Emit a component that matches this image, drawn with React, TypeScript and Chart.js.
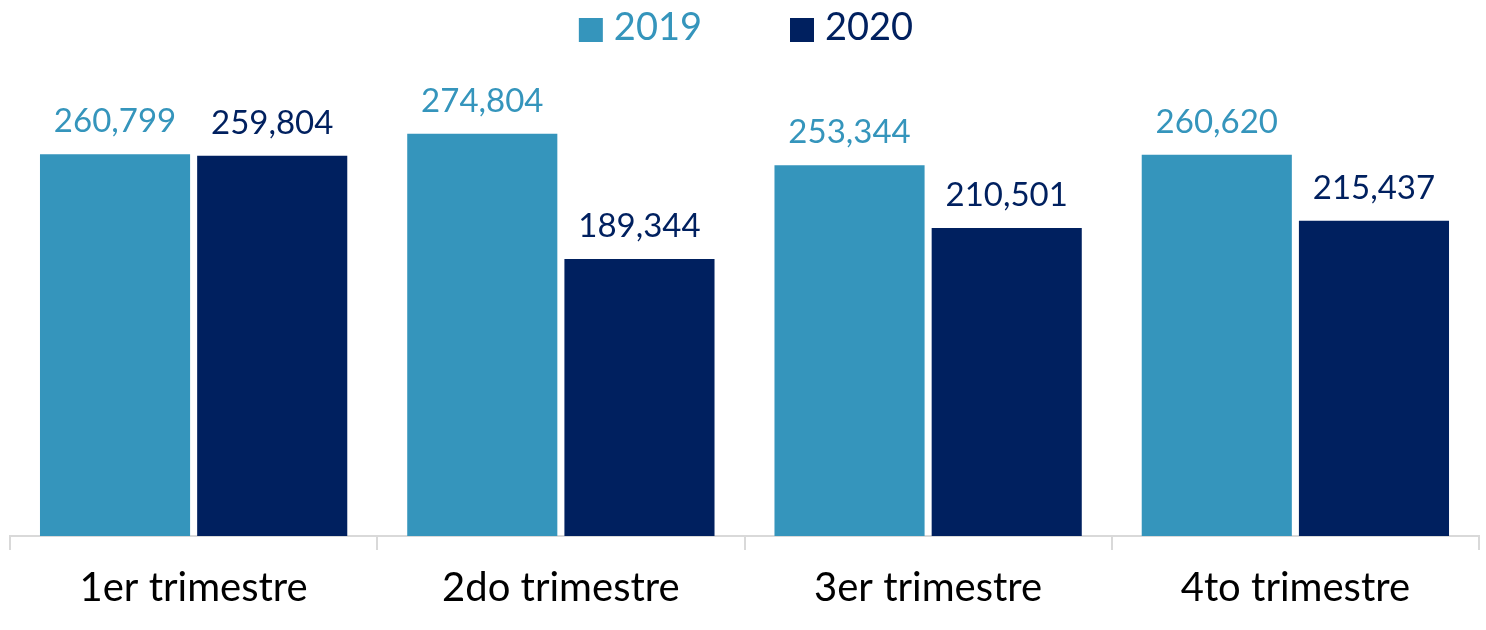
import React, { useEffect, useRef } from "react";
import { Chart, registerables } from "chart.js";

Chart.register(...registerables);

const categories = ["1er trimestre", "2do trimestre", "3er trimestre", "4to trimestre"];
const series2019 = [260799, 274804, 253344, 260620];
const series2020 = [259804, 189344, 210501, 215437];
const seriesNames = ["2019", "2020"];
const colors = ["#3595BC", "#00205F"];

const FONT = "Lato, 'Open Sans', sans-serif";

const valueLabels = {
  id: "valueLabels",
  afterDatasetsDraw(chart: any) {
    const ctx = chart.ctx;
    ctx.save();
    ctx.font = `33px ${FONT}`;
    ctx.textAlign = "center";
    ctx.textBaseline = "alphabetic";
    chart.data.datasets.forEach((ds: any, i: number) => {
      const meta = chart.getDatasetMeta(i);
      ctx.fillStyle = ds.backgroundColor;
      meta.data.forEach((bar: any, j: number) => {
        const v = ds.data[j] as number;
        ctx.fillText(v.toLocaleString("en-US"), bar.x, bar.y - 22);
      });
    });
    ctx.restore();
  },
};

const topLegend = {
  id: "topLegend",
  afterDraw(chart: any) {
    const ctx = chart.ctx;
    ctx.save();
    ctx.font = `38px ${FONT}`;
    ctx.textBaseline = "alphabetic";
    ctx.textAlign = "left";
    const box = 24;
    const gap = 11;
    const spacing = 88;
    const items = chart.data.datasets.map((ds: any) => ({
      text: ds.label as string,
      color: ds.backgroundColor as string,
      w: ctx.measureText(ds.label).width,
    }));
    const total =
      items.reduce((s: number, it: any) => s + box + gap + it.w, 0) + spacing * (items.length - 1);
    let x = 746 - total / 2;
    const baseline = 40;
    items.forEach((it: any) => {
      ctx.fillStyle = it.color;
      ctx.fillRect(x, 18, box, box);
      ctx.fillText(it.text, x + box + gap, baseline);
      x += box + gap + it.w + spacing;
    });
    ctx.restore();
  },
};

export default function App() {
  const ref = useRef<HTMLCanvasElement>(null);
  useEffect(() => {
    if (!ref.current) return;
    const chart = new Chart(ref.current, {
      type: "bar",
      data: {
        labels: categories,
        datasets: [
          { label: seriesNames[0], data: series2019, backgroundColor: colors[0] },
          { label: seriesNames[1], data: series2020, backgroundColor: colors[1] },
        ],
      },
      options: {
        animation: false,
        responsive: false,
        maintainAspectRatio: false,
        layout: { padding: { left: 10, right: 7, top: 97, bottom: 4 } },
        datasets: {
          bar: { categoryPercentage: 0.856, barPercentage: 0.955 },
        },
        plugins: {
          legend: { display: false },
          tooltip: { enabled: false },
        },
        scales: {
          x: {
            grid: {
              display: true,
              drawOnChartArea: false,
              drawTicks: true,
              tickLength: 14,
              color: "#d9d9d9",
              lineWidth: 2,
            },
            border: { display: true, color: "#d9d9d9", width: 2 },
            ticks: {
              color: "#000",
              padding: 14,
              font: { family: FONT, size: 40 },
            },
          },
          y: {
            display: false,
            min: 0,
            max: 300000,
          },
        },
      },
      plugins: [valueLabels, topLegend],
    });
    return () => chart.destroy();
  }, []);
  return (
    <div style={{ position: "fixed", left: 0, top: 0, width: 1486, height: 630, background: "#fff" }}>
      <canvas ref={ref} width={1486} height={630} style={{ width: 1486, height: 630 }} />
    </div>
  );
}
